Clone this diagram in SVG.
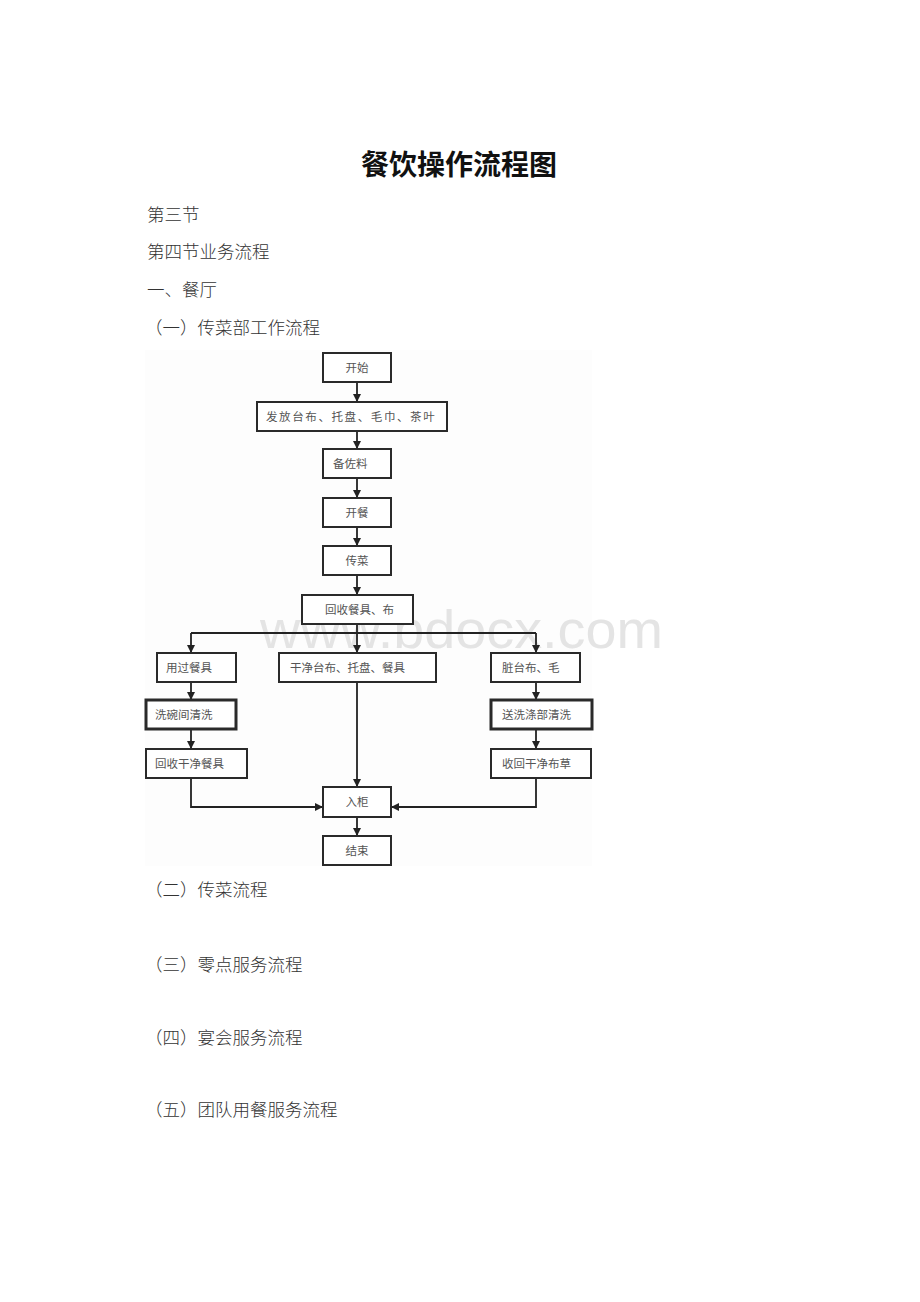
<svg xmlns="http://www.w3.org/2000/svg" width="920" height="1302" viewBox="0 0 920 1302">
<style>
.doc{font-family:"Noto Sans CJK SC",sans-serif;fill:#333;font-size:17.5px;font-weight:300}
.title{font-family:"Noto Sans CJK SC",sans-serif;font-weight:bold;font-size:28px;fill:#111}
.box{fill:#fff;stroke:#2a2a2a;stroke-width:2}
.bold{stroke-width:3}
.lbl{font-family:"Noto Sans CJK SC",sans-serif;font-size:11.5px;fill:#555}
.c{text-anchor:middle}
.conn{stroke:#222;stroke-width:1.8;fill:none}
.wm{font-family:"Liberation Sans",Arial,sans-serif;font-size:54px;fill:#e4e4e4}
</style>
<defs>
<marker id="arr" markerUnits="userSpaceOnUse" markerWidth="9" markerHeight="9" refX="8" refY="4" orient="auto">
<path d="M0,0 L8,4 L0,8 z" fill="#222"/>
</marker>
</defs>
<rect width="920" height="1302" fill="#fff"/>
<text class="title c" x="459" y="175">餐饮操作流程图</text>
<text class="doc" x="147" y="221">第三节</text>
<text class="doc" x="147" y="258">第四节业务流程</text>
<text class="doc" x="147" y="296">一、餐厅</text>
<text class="doc" x="145" y="334">（一）传菜部工作流程</text>
<text class="doc" x="145" y="896">（二）传菜流程</text>
<text class="doc" x="145" y="971">（三）零点服务流程</text>
<text class="doc" x="145" y="1044">（四）宴会服务流程</text>
<text class="doc" x="145" y="1116">（五）团队用餐服务流程</text>
<rect x="145" y="350" width="447" height="516" fill="#fdfdfd"/>
<text class="wm" x="260" y="648" textLength="403" lengthAdjust="spacingAndGlyphs">www.bdocx.com</text>
<g id="connectors">
<line class="conn" x1="357" y1="382" x2="357" y2="402" marker-end="url(#arr)"/>
<line class="conn" x1="357" y1="431" x2="357" y2="449" marker-end="url(#arr)"/>
<line class="conn" x1="357" y1="478" x2="357" y2="498" marker-end="url(#arr)"/>
<line class="conn" x1="357" y1="527" x2="357" y2="546" marker-end="url(#arr)"/>
<line class="conn" x1="357" y1="575" x2="357" y2="595" marker-end="url(#arr)"/>
<line class="conn" x1="357" y1="624" x2="357" y2="653" marker-end="url(#arr)"/>
<line class="conn" x1="191" y1="633" x2="536" y2="633"/>
<line class="conn" x1="191" y1="633" x2="191" y2="653" marker-end="url(#arr)"/>
<line class="conn" x1="536" y1="633" x2="536" y2="653" marker-end="url(#arr)"/>
<line class="conn" x1="191" y1="682" x2="191" y2="700" marker-end="url(#arr)"/>
<line class="conn" x1="191" y1="729" x2="191" y2="749" marker-end="url(#arr)"/>
<line class="conn" x1="536" y1="682" x2="536" y2="700" marker-end="url(#arr)"/>
<line class="conn" x1="536" y1="729" x2="536" y2="749" marker-end="url(#arr)"/>
<line class="conn" x1="357" y1="682" x2="357" y2="787" marker-end="url(#arr)"/>
<polyline class="conn" points="191,778 191,807 323,807" marker-end="url(#arr)"/>
<polyline class="conn" points="536,778 536,807 391,807" marker-end="url(#arr)"/>
<line class="conn" x1="357" y1="817" x2="357" y2="836" marker-end="url(#arr)"/>
</g>
<g id="n_start"><rect class="box" x="323" y="353" width="68" height="29"/><text class="lbl c" x="357" y="372">开始</text></g>
<g id="n_issue"><rect class="box" x="257" y="402" width="190" height="29"/><text class="lbl" x="266" y="421" letter-spacing="1.6">发放台布、托盘、毛巾、茶叶</text></g>
<g id="n_prep"><rect class="box" x="323" y="449" width="68" height="29"/><text class="lbl" x="333" y="468">备佐料</text></g>
<g id="n_open"><rect class="box" x="323" y="498" width="68" height="29"/><text class="lbl c" x="357" y="517">开餐</text></g>
<g id="n_serve"><rect class="box" x="323" y="546" width="68" height="29"/><text class="lbl c" x="357" y="565">传菜</text></g>
<g id="n_collect"><rect class="box" x="302" y="595" width="111" height="29"/><text class="lbl" x="325" y="614">回收餐具、布</text></g>
<g id="n_used"><rect class="box" x="157" y="653" width="79" height="29"/><text class="lbl" x="166" y="672">用过餐具</text></g>
<g id="n_clean"><rect class="box" x="279" y="653" width="157" height="29"/><text class="lbl" x="290" y="672">干净台布、托盘、餐具</text></g>
<g id="n_dirty"><rect class="box" x="491" y="653" width="89" height="29"/><text class="lbl" x="502" y="672">脏台布、毛</text></g>
<g id="n_wash"><rect class="box bold" x="146" y="700" width="90" height="29"/><text class="lbl" x="155" y="719">洗碗间清洗</text></g>
<g id="n_laundry"><rect class="box bold" x="491" y="700" width="101" height="29"/><text class="lbl" x="502" y="719">送洗涤部清洗</text></g>
<g id="n_cleanware"><rect class="box" x="146" y="749" width="101" height="29"/><text class="lbl" x="155" y="768">回收干净餐具</text></g>
<g id="n_cleanlinen"><rect class="box" x="491" y="749" width="100" height="29"/><text class="lbl" x="502" y="768">收回干净布草</text></g>
<g id="n_cabinet"><rect class="box" x="323" y="787" width="68" height="30"/><text class="lbl c" x="357" y="806">入柜</text></g>
<g id="n_end"><rect class="box" x="323" y="836" width="68" height="29"/><text class="lbl c" x="357" y="855">结束</text></g>
</svg>
